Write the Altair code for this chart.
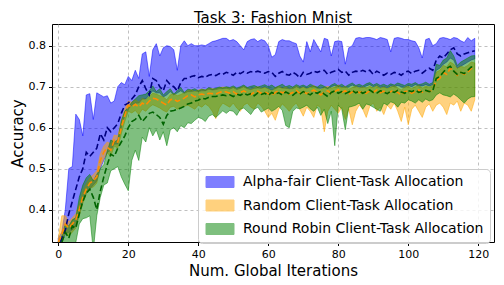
import altair as alt
import pandas as pd

iterations = list(range(120))

names = ["Alpha-fair Client-Task Allocation", "Random Client-Task Allocation",
         "Round Robin Client-Task Allocation"]

# Alpha-fair: mean / upper / lower
alpha_mean = [
    0.300, 0.330, 0.350, 0.390, 0.420, 0.450, 0.480, 0.500, 0.540, 0.530,
    0.540, 0.550, 0.585, 0.570, 0.600, 0.590, 0.600, 0.610, 0.635, 0.655,
    0.660, 0.670, 0.680, 0.700, 0.715, 0.695, 0.680, 0.720, 0.715, 0.700,
    0.690, 0.715, 0.705, 0.700, 0.690, 0.710, 0.720, 0.720, 0.725, 0.727,
    0.722, 0.725, 0.723, 0.728, 0.730, 0.727, 0.732, 0.730, 0.735, 0.732,
    0.728, 0.735, 0.732, 0.737, 0.733, 0.737, 0.735, 0.738, 0.735, 0.733,
    0.737, 0.735, 0.725, 0.733, 0.737, 0.730, 0.728, 0.735, 0.730, 0.722,
    0.735, 0.730, 0.733, 0.738, 0.735, 0.738, 0.740, 0.730, 0.735, 0.738,
    0.742, 0.735, 0.738, 0.728, 0.735, 0.738, 0.736, 0.740, 0.736, 0.740,
    0.730, 0.738, 0.733, 0.728, 0.733, 0.730, 0.735, 0.733, 0.728, 0.735,
    0.738, 0.732, 0.738, 0.740, 0.733, 0.740, 0.745, 0.740, 0.765, 0.775,
    0.770, 0.780, 0.790, 0.795, 0.780, 0.775, 0.780, 0.783, 0.785, 0.788,
]
alpha_hi = [
    0.330, 0.345, 0.400, 0.500, 0.505, 0.633, 0.620, 0.580, 0.680, 0.683,
    0.620, 0.685, 0.680, 0.675, 0.678, 0.660, 0.665, 0.700, 0.710, 0.705,
    0.725, 0.715, 0.740, 0.720, 0.780, 0.785, 0.725, 0.790, 0.805, 0.775,
    0.795, 0.800, 0.798, 0.790, 0.740, 0.800, 0.812, 0.800, 0.805, 0.800,
    0.800, 0.802, 0.800, 0.805, 0.810, 0.812, 0.815, 0.818, 0.818, 0.812,
    0.815, 0.810, 0.800, 0.790, 0.810, 0.815, 0.817, 0.810, 0.815, 0.812,
    0.800, 0.772, 0.778, 0.810, 0.815, 0.812, 0.812, 0.808, 0.805, 0.775,
    0.760, 0.810, 0.785, 0.815, 0.800, 0.785, 0.818, 0.815, 0.775, 0.810,
    0.812, 0.810, 0.755, 0.795, 0.800, 0.818, 0.820, 0.818, 0.820, 0.820,
    0.818, 0.815, 0.820, 0.818, 0.815, 0.785, 0.818, 0.820, 0.818, 0.815,
    0.815, 0.812, 0.810, 0.795, 0.770, 0.815, 0.818, 0.800, 0.805, 0.818,
    0.820, 0.818, 0.815, 0.820, 0.818, 0.812, 0.808, 0.820, 0.812, 0.818,
]
alpha_lo = [
    0.300, 0.320, 0.340, 0.345, 0.350, 0.360, 0.390, 0.420, 0.440, 0.450,
    0.460, 0.470, 0.500, 0.520, 0.540, 0.545, 0.560, 0.560, 0.600, 0.630,
    0.645, 0.655, 0.660, 0.660, 0.670, 0.670, 0.680, 0.690, 0.685, 0.685,
    0.675, 0.680, 0.688, 0.680, 0.685, 0.690, 0.684, 0.688, 0.688, 0.690,
    0.688, 0.690, 0.690, 0.694, 0.692, 0.693, 0.695, 0.695, 0.696, 0.694,
    0.698, 0.693, 0.696, 0.700, 0.695, 0.693, 0.696, 0.697, 0.696, 0.700,
    0.695, 0.692, 0.695, 0.699, 0.697, 0.696, 0.695, 0.695, 0.700, 0.696,
    0.700, 0.696, 0.700, 0.700, 0.696, 0.696, 0.698, 0.695, 0.700, 0.703,
    0.700, 0.700, 0.698, 0.700, 0.704, 0.700, 0.700, 0.698, 0.702, 0.705,
    0.700, 0.703, 0.698, 0.700, 0.697, 0.702, 0.700, 0.703, 0.700, 0.698,
    0.703, 0.700, 0.705, 0.702, 0.702, 0.705, 0.702, 0.705, 0.740, 0.745,
    0.755, 0.760, 0.770, 0.765, 0.745, 0.750, 0.755, 0.760, 0.765, 0.768,
]

# Random
random_mean = [
    0.320, 0.340, 0.365, 0.355, 0.365, 0.375, 0.400, 0.430, 0.450, 0.465,
    0.470, 0.480, 0.520, 0.540, 0.552, 0.545, 0.570, 0.565, 0.600, 0.630,
    0.655, 0.650, 0.657, 0.650, 0.660, 0.655, 0.665, 0.672, 0.670, 0.665,
    0.660, 0.655, 0.668, 0.670, 0.664, 0.668, 0.672, 0.678, 0.680, 0.675,
    0.680, 0.682, 0.680, 0.684, 0.683, 0.682, 0.686, 0.688, 0.687, 0.684,
    0.688, 0.682, 0.686, 0.690, 0.685, 0.681, 0.686, 0.689, 0.684, 0.687,
    0.683, 0.678, 0.686, 0.690, 0.685, 0.688, 0.682, 0.686, 0.691, 0.684,
    0.688, 0.683, 0.687, 0.692, 0.686, 0.680, 0.687, 0.690, 0.684, 0.688,
    0.693, 0.686, 0.690, 0.682, 0.687, 0.691, 0.685, 0.689, 0.684, 0.690,
    0.686, 0.692, 0.685, 0.689, 0.683, 0.688, 0.692, 0.686, 0.680, 0.688,
    0.690, 0.684, 0.689, 0.692, 0.686, 0.690, 0.688, 0.692, 0.715, 0.720,
    0.735, 0.730, 0.745, 0.740, 0.728, 0.735, 0.730, 0.735, 0.745, 0.742,
]
random_hi = [
    0.330, 0.385, 0.385, 0.370, 0.380, 0.390, 0.415, 0.445, 0.462, 0.478,
    0.485, 0.495, 0.535, 0.555, 0.565, 0.560, 0.582, 0.580, 0.615, 0.645,
    0.665, 0.662, 0.668, 0.662, 0.672, 0.668, 0.676, 0.684, 0.682, 0.678,
    0.675, 0.668, 0.680, 0.683, 0.678, 0.681, 0.685, 0.690, 0.692, 0.688,
    0.692, 0.694, 0.692, 0.695, 0.695, 0.694, 0.697, 0.699, 0.698, 0.696,
    0.699, 0.694, 0.697, 0.701, 0.696, 0.693, 0.697, 0.700, 0.696, 0.698,
    0.695, 0.690, 0.697, 0.701, 0.696, 0.699, 0.694, 0.697, 0.702, 0.696,
    0.699, 0.695, 0.698, 0.703, 0.697, 0.692, 0.698, 0.701, 0.696, 0.699,
    0.704, 0.697, 0.701, 0.694, 0.698, 0.702, 0.696, 0.700, 0.696, 0.701,
    0.697, 0.703, 0.696, 0.700, 0.695, 0.699, 0.703, 0.697, 0.692, 0.699,
    0.701, 0.695, 0.700, 0.703, 0.697, 0.701, 0.699, 0.703, 0.735, 0.740,
    0.752, 0.748, 0.760, 0.755, 0.745, 0.750, 0.747, 0.752, 0.760, 0.758,
]
random_lo = [
    0.310, 0.320, 0.345, 0.335, 0.345, 0.355, 0.385, 0.415, 0.438, 0.452,
    0.455, 0.465, 0.505, 0.525, 0.538, 0.530, 0.555, 0.550, 0.585, 0.615,
    0.640, 0.636, 0.642, 0.632, 0.645, 0.640, 0.650, 0.656, 0.652, 0.648,
    0.642, 0.638, 0.650, 0.652, 0.645, 0.648, 0.652, 0.655, 0.650, 0.645,
    0.655, 0.650, 0.658, 0.652, 0.640, 0.622, 0.648, 0.660, 0.655, 0.650,
    0.660, 0.648, 0.640, 0.655, 0.660, 0.650, 0.645, 0.660, 0.652, 0.640,
    0.625, 0.635, 0.618, 0.645, 0.658, 0.650, 0.640, 0.652, 0.660, 0.645,
    0.628, 0.650, 0.640, 0.625, 0.655, 0.648, 0.590, 0.640, 0.655, 0.645,
    0.635, 0.650, 0.620, 0.645, 0.607, 0.640, 0.655, 0.645, 0.625, 0.652,
    0.660, 0.640, 0.650, 0.632, 0.655, 0.645, 0.660, 0.640, 0.615, 0.650,
    0.607, 0.645, 0.655, 0.640, 0.625, 0.650, 0.658, 0.640, 0.655, 0.660,
    0.650, 0.632, 0.660, 0.655, 0.665, 0.640, 0.660, 0.655, 0.640, 0.668,
]

# Round Robin
rr_mean = [
    0.300, 0.320, 0.345, 0.330, 0.360, 0.355, 0.390, 0.420, 0.440, 0.450,
    0.430, 0.400, 0.445, 0.480, 0.510, 0.535, 0.530, 0.550, 0.565, 0.580,
    0.600, 0.615, 0.620, 0.630, 0.615, 0.625, 0.635, 0.638, 0.632, 0.625,
    0.608, 0.630, 0.640, 0.642, 0.645, 0.648, 0.652, 0.658, 0.660, 0.665,
    0.667, 0.672, 0.670, 0.674, 0.676, 0.676, 0.678, 0.680, 0.678, 0.680,
    0.676, 0.682, 0.679, 0.684, 0.680, 0.683, 0.678, 0.685, 0.681, 0.684,
    0.679, 0.686, 0.682, 0.685, 0.680, 0.687, 0.683, 0.679, 0.686, 0.682,
    0.688, 0.684, 0.680, 0.687, 0.684, 0.689, 0.682, 0.676, 0.686, 0.690,
    0.684, 0.688, 0.683, 0.687, 0.691, 0.685, 0.689, 0.684, 0.688, 0.692,
    0.686, 0.684, 0.690, 0.687, 0.683, 0.689, 0.686, 0.691, 0.687, 0.684,
    0.690, 0.688, 0.692, 0.686, 0.689, 0.691, 0.688, 0.690, 0.720, 0.725,
    0.735, 0.745, 0.750, 0.738, 0.730, 0.735, 0.732, 0.740, 0.748, 0.745,
]
rr_hi = [
    0.310, 0.335, 0.365, 0.360, 0.375, 0.380, 0.430, 0.460, 0.478, 0.486,
    0.470, 0.486, 0.500, 0.510, 0.543, 0.570, 0.565, 0.570, 0.617, 0.640,
    0.650, 0.662, 0.670, 0.678, 0.680, 0.682, 0.690, 0.702, 0.688, 0.695,
    0.680, 0.688, 0.695, 0.682, 0.690, 0.698, 0.686, 0.694, 0.692, 0.695,
    0.690, 0.694, 0.692, 0.698, 0.694, 0.696, 0.699, 0.697, 0.700, 0.698,
    0.702, 0.697, 0.700, 0.704, 0.698, 0.701, 0.703, 0.699, 0.702, 0.705,
    0.700, 0.704, 0.698, 0.702, 0.706, 0.700, 0.703, 0.699, 0.705, 0.701,
    0.704, 0.700, 0.706, 0.702, 0.699, 0.705, 0.701, 0.697, 0.704, 0.708,
    0.702, 0.706, 0.700, 0.705, 0.709, 0.703, 0.706, 0.702, 0.707, 0.710,
    0.704, 0.708, 0.703, 0.706, 0.702, 0.707, 0.704, 0.709, 0.706, 0.703,
    0.708, 0.706, 0.710, 0.705, 0.707, 0.711, 0.706, 0.710, 0.755, 0.752,
    0.765, 0.770, 0.788, 0.775, 0.752, 0.760, 0.765, 0.770, 0.775, 0.776,
]
rr_lo = [
    0.290, 0.300, 0.310, 0.310, 0.315, 0.320, 0.365, 0.378, 0.380, 0.385,
    0.300, 0.385, 0.430, 0.460, 0.465, 0.495, 0.500, 0.505, 0.480, 0.462,
    0.446, 0.520, 0.545, 0.520, 0.577, 0.565, 0.600, 0.580, 0.595, 0.570,
    0.590, 0.556, 0.595, 0.600, 0.590, 0.605, 0.600, 0.612, 0.610, 0.618,
    0.625, 0.622, 0.615, 0.628, 0.632, 0.625, 0.633, 0.641, 0.635, 0.642,
    0.640, 0.630, 0.645, 0.648, 0.640, 0.632, 0.645, 0.650, 0.638, 0.643,
    0.648, 0.640, 0.645, 0.652, 0.642, 0.605, 0.600, 0.640, 0.648, 0.646,
    0.650, 0.655, 0.646, 0.640, 0.650, 0.630, 0.645, 0.610, 0.640, 0.556,
    0.655, 0.645, 0.595, 0.650, 0.652, 0.655, 0.660, 0.645, 0.658, 0.655,
    0.650, 0.645, 0.640, 0.660, 0.655, 0.663, 0.660, 0.650, 0.662, 0.660,
    0.668, 0.665, 0.660, 0.668, 0.662, 0.670, 0.665, 0.668, 0.680, 0.685,
    0.680, 0.678, 0.675, 0.682, 0.676, 0.668, 0.660, 0.670, 0.675, 0.676,
]

x_ticks = [0, 20, 40, 60, 80, 100, 120]
y_ticks = [0.4, 0.5, 0.6, 0.7, 0.8]

fill_colors = ["blue", "orange", "green"]
line_colors = ["#000080", "#ff8c00", "#006400"]

series = [
    (names[0], alpha_mean, alpha_lo, alpha_hi),
    (names[1], random_mean, random_lo, random_hi),
    (names[2], rr_mean, rr_lo, rr_hi),
]
rows = []
for name, m, lo, hi in series:
    for i, it in enumerate(iterations):
        rows.append({"it": it, "series": name, "mean": m[i], "lo": lo[i], "hi": hi[i]})
df = pd.DataFrame(rows)

FONT = "DejaVu Sans"
xscale = alt.Scale(domain=[-1.8, 124.5], nice=False, zero=False)
yscale = alt.Scale(domain=[0.321, 0.853], nice=False, zero=False)
cscale = alt.Scale(domain=names, range=fill_colors)

legend = alt.Legend(
    title=None, orient="none", legendX=146, legendY=145,
    symbolType="M-1,-1.1L4.6,-1.1L4.6,1.1L-1,1.1Z", symbolSize=100,
    symbolOpacity=0.5, symbolStrokeWidth=1,
    labelFont=FONT, labelFontSize=14, labelColor="black", labelOffset=25,
    labelLimit=400,
    fillColor="rgba(255,255,255,0.8)", strokeColor="#cccccc", cornerRadius=4,
    padding=6, rowPadding=7.5,
)

xenc = alt.X("it:Q", scale=xscale,
             axis=alt.Axis(values=x_ticks, title="Num. Global Iterations", format="d"))
base = alt.Chart(df)

layers = []
for k, name in enumerate(names):
    layers.append(
        base.transform_filter(alt.datum.series == name).mark_area(
            fillOpacity=0.5, strokeOpacity=0.5, strokeWidth=1, clip=True
        ).encode(
            x=xenc,
            y=alt.Y("lo:Q", scale=yscale,
                    axis=alt.Axis(values=y_ticks, format=".1f", title="Accuracy")),
            y2="hi:Q",
            fill=alt.Fill("series:N", scale=cscale, legend=legend),
            stroke=alt.Stroke("series:N", scale=cscale, legend=legend),
        )
    )
for k, name in enumerate(names):
    layers.append(
        base.transform_filter(alt.datum.series == name).mark_line(
            color=line_colors[k], strokeDash=[6, 3], strokeWidth=1.6, clip=True
        ).encode(x=xenc, y=alt.Y("mean:Q", scale=yscale))
    )

chart = alt.layer(*layers).properties(
    width=442, height=218,
    title=alt.TitleParams("Task 3: Fashion Mnist", font=FONT, fontSize=15,
                          fontWeight="normal", color="black", offset=2, dy=4),
    autosize=alt.AutoSizeParams(type="none"),
    padding={"left": 44, "top": 16, "right": 2, "bottom": 40},
).configure_view(
    stroke="black", strokeWidth=1
).configure_axis(
    labelFont=FONT, labelFontSize=11, labelColor="black",
    titleFont=FONT, titleFontSize=15, titleFontWeight="normal", titleColor="black",
    domain=False, tickColor="black", tickSize=3.5,
    grid=True, gridColor="#b0b0b0", gridDash=[3, 3], gridOpacity=0.8,
    zindex=1,
).configure_axisX(
    labelPadding=3, titlePadding=4
).configure_axisY(
    labelPadding=3, titlePadding=3
)

chart.save("out.html", embed_options={"renderer": "svg", "actions": False})
